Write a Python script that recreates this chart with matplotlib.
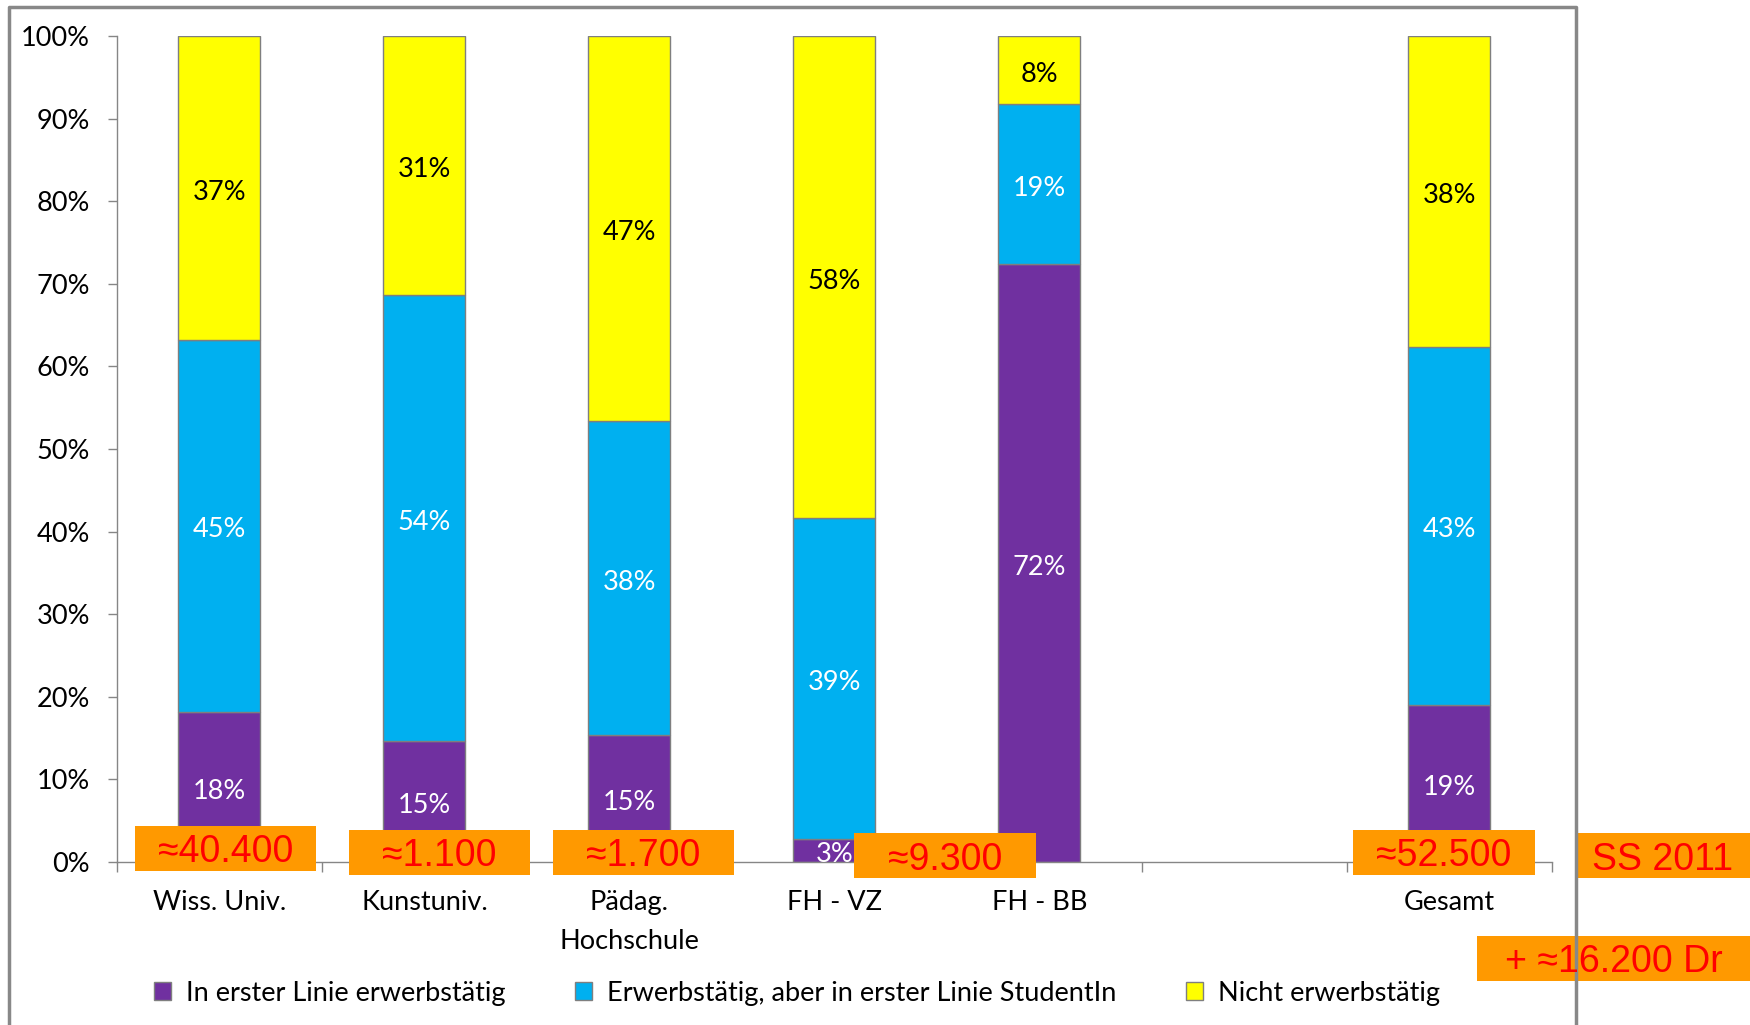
import numpy as np
import matplotlib.pyplot as plt
from matplotlib.patches import Rectangle, Patch

# Studierende nach Erwerbstaetigkeit und Hochschultyp (Anteile in %)
categories = ["Wiss. Univ.", "Kunstuniv.", "Pädag.\nHochschule", "FH - VZ", "FH - BB", "", "Gesamt"]
erwerbstaetig = [18.2, 14.7, 15.4, 2.8, 72.4, np.nan, 19.0]
studentin = [45.0, 53.9, 38.0, 38.8, 19.4, np.nan, 43.4]
nicht_erwerb = [36.8, 31.4, 46.6, 58.4, 8.2, np.nan, 37.6]
series_names = ["In erster Linie erwerbstätig",
                "Erwerbstätig, aber in erster Linie StudentIn",
                "Nicht erwerbstätig"]

# Hinweis-Kaesten (Anzahl Studierende)
box_texts = ["≈40.400", "≈1.100", "≈1.700", "≈9.300", "≈52.500", "SS 2011", "+ ≈16.200 Dr"]

colors = ["#7030A0", "#00B0F0", "#FFFF00"]
text_colors = ["white", "white", "black"]
edge = "#7F7F7F"
axis_gray = "#868686"
fs = 19.5

W, H = 1750, 1025
plt.rcParams['font.family'] = ['Lato', 'DejaVu Sans']
fig = plt.figure(figsize=(W / 100, H / 100), dpi=100)
ax = fig.add_axes([117 / W, 1 - 862 / H, (1552 - 117) / W, (862 - 36) / H])

x = np.arange(len(categories))
bottom = np.zeros(len(categories))
for vals, col, tcol in zip([erwerbstaetig, studentin, nicht_erwerb], colors, text_colors):
    vals = np.array(vals, dtype=float)
    ax.bar(x, vals, 0.4, bottom=bottom, color=col, edgecolor=edge, linewidth=1)
    for xi, b, v in zip(x, bottom, vals):
        if np.isnan(v):
            continue
        ax.annotate(f"{v:.0f}%", (xi, b + v / 2), xytext=(0, -3), textcoords="offset points",
                    ha="center", va="center", color=tcol, fontsize=fs)
    bottom = bottom + np.nan_to_num(vals)

ax.set_xlim(-0.5, len(categories) - 0.5)
ax.set_ylim(0, 100)
ax.set_yticks(np.arange(0, 101, 10))
ax.set_yticklabels([f"{t}%" for t in range(0, 101, 10)])
ax.set_xticks(x)
ax.set_xticklabels(categories, linespacing=1.7)
ax.set_xticks(np.arange(-0.5, len(categories)), minor=True)
ax.tick_params(axis="x", which="major", length=0, pad=20, labelsize=fs)
ax.tick_params(axis="x", which="minor", length=7, width=1, color=axis_gray)
ax.tick_params(axis="y", length=6.5, width=1, color=axis_gray, pad=13, labelsize=fs)
for s in ["top", "right"]:
    ax.spines[s].set_visible(False)
for s in ["left", "bottom"]:
    ax.spines[s].set_color(axis_gray)
    ax.spines[s].set_linewidth(1)

handles = [Patch(facecolor=c, edgecolor=edge, linewidth=1) for c in colors]
fig.legend(handles, series_names, loc="center", bbox_to_anchor=(797 / W, 1 - 993 / H),
           ncol=3, frameon=False, fontsize=fs, handlelength=0.6, handleheight=0.6,
           handletextpad=0.55, columnspacing=2.6)

# Rahmen des Diagrammbereichs
fig.add_artist(plt.Line2D([9 / W, 9 / W, 1576 / W, 1576 / W],
                          [0, 1 - 7 / H, 1 - 7 / H, 0], color="#888888", linewidth=2.5))

# orange Kaesten: (x0, y0, x1, y1) in Pixeln
box_layout = [(135, 826, 316, 871), (349, 830, 530, 875), (553, 830, 734, 875),
              (854, 833, 1036, 878), (1353, 830, 1535, 875), (1576, 833, 1750, 878),
              (1477, 936, 1750, 981)]
for (x0, y0, x1, y1), t in zip(box_layout, box_texts):
    fig.add_artist(Rectangle((x0 / W, 1 - y1 / H), (x1 - x0) / W, (y1 - y0) / H,
                             facecolor="#FF9900", edgecolor="none", transform=fig.transFigure))
    fig.text((x0 + x1) / 2 / W, 1 - ((y0 + y1) / 2 + 4) / H, t, ha="center", va="center",
             color="#FF0000", fontsize=27, family=["Liberation Sans", "DejaVu Sans"])

fig.savefig("out.png", dpi=100)
